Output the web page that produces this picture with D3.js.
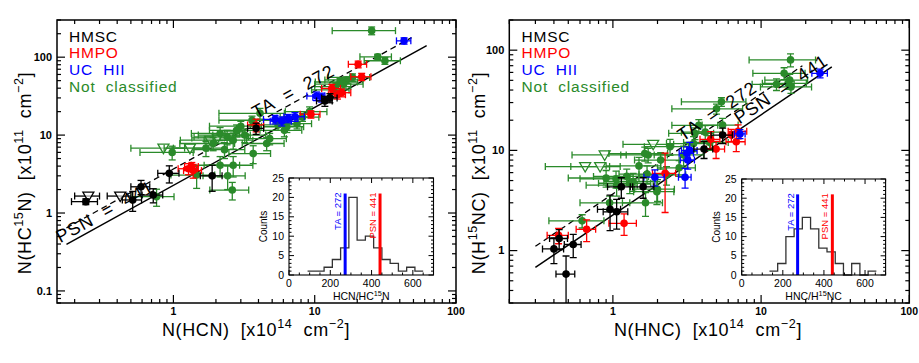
<!DOCTYPE html>
<html>
<head>
<meta charset="utf-8">
<script src="https://cdn.jsdelivr.net/npm/d3@7"></script>
<style>
  body { margin: 0; background: #fff; }
  text { font-family: "Liberation Sans", Arial, sans-serif; white-space: pre; }
</style>
</head>
<body>
<svg id="chart" width="919" height="363"></svg>
<script>
// ---- data: [x, y, xerr, yerr] (column densities) ----
const hcnHMSC = [[0.24,1.40,0.05,0.12],[0.515,1.47,0.08,0.42],[0.59,2.17,0.09,0.45],[0.72,1.70,0.12,0.35],
  [0.935,3.23,0.16,0.8],[1.88,3.0,0.33,1.1],[3.85,12.2,0.5,2.0],[11.8,27.4,1.5,4],[12.8,30,1.6,4]];
const hcnHMPO = [[1.28,3.7,0.2,0.6],[1.38,3.5,0.2,0.7],[1.35,3.95,0.15,0.5],[3.85,13.5,0.5,2.5],[9.4,18.5,1.5,2],
  [13.2,39.7,2,5],[14.5,33,2,4],[15.5,35,2.5,4],[20.3,81,3,8],[21.5,56,3.5,6]];
const hcnUCHII = [[42.9,162,5,15],[10.3,31.7,1.5,4],[11.2,30.5,1.5,4],[5.24,15.9,0.9,2],[5.84,15.1,1,2],
  [6.5,16.4,1.1,2],[7.25,17.2,1.2,2.2]];
const hcnNC = [[25.3,219,12,25],[27.9,101,7,8],[31.4,90,9,9],[16.8,51,5,5],[15.1,48,5,5],[18.5,55,6,6],
  [14,42,4,5],[16,45,6,5],[13.5,38,4,5],[6.35,12.8,2,2],[6.1,11.5,2,2],[4.57,7.8,1.5,1.5],[4.1,19,2,3],
  [3.67,5.8,1.2,1.5],[3.2,10,1.3,2],[2.65,8.6,1,2],[2.14,10.5,0.8,2],[1.91,7.8,0.8,1.5],[0.98,6.0,0.4,1.2],
  [2.14,4.1,0.8,1.2],[2.65,4.1,1,1.2],[2.42,3.0,0.8,1],[2.61,1.97,0.8,0.5],[1.46,3.07,0.5,1],[0.76,1.62,0.25,0.4],
  [3.0,13,1.2,2],[2.8,11.5,1,2],[5.5,13.5,2,2],[4.8,9,1.5,1.5],[3.6,15.5,1.5,2],[2.4,9.5,1,2],[7.5,14,2,2],
  [8.2,17,2.5,2],[1.7,6.8,0.7,1.5],[9.2,20,3,3],[2.3,6.5,0.9,1.5]];
// upper limits: [x, y, xerr]
const hcnHMSCLim = [[0.25,1.65,0.05],[0.42,1.65,0.08]];
const hcnNCLim = [[0.85,6.8,0.35],[1.31,6.8,0.45],[1.82,8.6,0.7],[2.05,9.2,0.7],[2.5,10,1]];

const hncHMSC = [[0.483,0.583,0.07,0.3],[0.40,1.04,0.065,0.3],[0.434,1.32,0.06,0.3],[0.54,1.15,0.07,0.3],
  [0.957,2.58,0.17,1.0],[1.06,2.44,0.2,0.8],[1.14,4.33,0.22,1.0],[1.6,4.33,0.29,1.0],[4.12,10.3,0.6,2.0],[5.5,14.2,0.9,2.5]];
const hncHMPO = [[0.43,1.42,0.07,0.25],[0.665,1.63,0.1,0.4],[1.19,1.87,0.25,0.45],[2.25,5.9,0.4,3.5],
  [4.57,12.9,0.7,2.5],[4.97,10.3,0.7,2],[6.8,12.2,1,2.5],[7.0,15.5,1,2.5],[6.3,14.2,1,2]];
const hncUCHII = [[25,58.8,3,6],[1.92,5.4,0.3,1],[3.07,5.4,0.3,1.2],[3.15,9.35,0.35,1.5],[3.3,10,0.4,2],
  [3.2,8.0,0.35,1.5],[7.2,14.6,0.6,1.5]];
const hncNC = [[15.8,80,7.5,12],[14.3,58.8,5.5,8],[12.7,45.6,4,6],[15.2,46.7,5,6],[15.6,50.3,5,7],[15.9,43,6,6],
  [5.4,30.5,2.5,3],[5.0,26,2.5,3],[1.66,3.0,0.5,0.8],[2.0,4.1,0.6,1],[1.3,4.7,0.5,1],[1.73,9.0,0.6,1.5],
  [3.58,14.8,1.2,2],[3.8,17.8,1.3,2.5],[2.43,10.9,0.8,2],[1.7,5.8,0.6,1.2],[1.06,4.5,0.4,1],[1.98,3.87,0.6,1],
  [2.3,5.7,0.8,1.2],[1.64,9.3,0.7,1.5],[2.1,8,0.7,1.5],[1.24,5.5,0.5,1],[1.37,4.9,0.5,1],[2.8,6.7,0.8,1.2],
  [3.5,11.7,1.2,2],[5.5,17.9,1.5,3],[4.2,15.2,1.3,2.5],[0.62,1.98,0.25,0.3],[0.95,3.0,0.35,0.5],
  [1.05,5.2,0.45,1],[0.9,5.3,0.4,1],[1.5,7.0,0.6,1.5],[4.5,12,1.5,2],[3.0,9.0,1.1,2]];
const hncNCLim = [[0.65,6.9,0.3],[0.82,6.9,0.3],[0.88,9.0,0.35],[1.87,11.5,0.7]];

// histograms of the isotopic ratio
const hcnEdges = [90,130,170,210,250,290,330,370,410,450,490,530,570,610,650];
const hcnCounts = [1,1,2,4,7,20,9,10,7,4,3,1,2,1];
const hncEdges = [135,175,215,255,295,335,375,415,455,495,535,575,615,655];
const hncCounts = [1,3,10,12,15,12,7,6,3,0,3,0,1];

const ratioTA = 272, ratioPSN = 441;
const mainTicks = [0.1, 1, 10, 100];
const legendNames = ["HMSC", "HMPO", "UC  HII", "Not  classified"];
const colors = {hmsc: "#000000", hmpo: "#ff0000", uchii: "#0000ff", nc: "#2a8a2a"};

const svg = d3.select("#chart");
svg.append("rect").attr("width", 919).attr("height", 363).attr("fill", "#fff");

function richText(g, parts, size) {
  // parts: [text, isSup]
  let up = false;
  parts.forEach(([s, sup]) => {
    const t = g.append("tspan").text(s);
    if (sup && !up) { t.attr("dy", -size * 0.42).attr("font-size", size * 0.7); up = true; }
    else if (sup) { t.attr("font-size", size * 0.7); }
    else if (up) { t.attr("dy", size * 0.42); up = false; }
  });
}

function drawPanel(p, idx) {
  const [bx0, bx1, by0, by1] = p.box;
  const x = d3.scaleLog().domain(p.xDom).range([bx0, bx1]);
  const y = d3.scaleLog().domain(p.yDom).range([by1, by0]);
  const g = svg.append("g");

  const clipId = "clip" + idx;
  g.append("clipPath").attr("id", clipId).append("rect")
    .attr("x", bx0).attr("y", by0).attr("width", bx1 - bx0).attr("height", by1 - by0);
  const plot = g.append("g").attr("clip-path", `url(#${clipId})`);

  // ratio lines
  const lineGen = d3.line().x(d => x(d[0])).y(d => y(d[1]));
  const solid = p.lineRange.solid.map(v => [v, v * 1000 / ratioPSN]);
  const dashed = p.lineRange.dashed.map(v => [v, v * 1000 / ratioTA]);
  plot.append("path").attr("d", lineGen(solid)).attr("stroke", "#000").attr("stroke-width", 1.5).attr("fill", "none");
  plot.append("path").attr("d", lineGen(dashed)).attr("stroke", "#000").attr("stroke-width", 1.3)
    .attr("stroke-dasharray", "6,4").attr("fill", "none");

  const ang = Math.atan2(y(10) - y(1), x(10) - x(1)) * 180 / Math.PI;
  function lineLabel(xv, ratio, txt) {
    const yv = xv * 1000 / ratio;
    g.append("text").attr("font-size", 18).attr("letter-spacing", 1)
      .attr("transform", `translate(${x(xv)},${y(yv)}) rotate(${ang})`)
      .attr("dy", -4).text(txt);
  }
  lineLabel(p.labelAt.psn, ratioPSN, "PSN  =  441");
  lineLabel(p.labelAt.ta, ratioTA, "TA  =  272");

  const xmin = p.xDom[0], ymin = p.yDom[0];
  function errorBars(data, color) {
    const sg = plot.append("g").attr("stroke", color).attr("fill", color).attr("stroke-width", 1.3);
    data.forEach(d => {
      const [xv, yv, dx, dy] = d;
      const cx = x(xv), cy = y(yv);
      const xl = xv - dx > xmin ? x(xv - dx) : x(xmin), xr = x(xv + dx);
      sg.append("line").attr("x1", xl).attr("x2", xr).attr("y1", cy).attr("y2", cy);
      if (xv - dx > xmin) sg.append("line").attr("x1", xl).attr("x2", xl).attr("y1", cy - 3.5).attr("y2", cy + 3.5);
      sg.append("line").attr("x1", xr).attr("x2", xr).attr("y1", cy - 3.5).attr("y2", cy + 3.5);
      if (dy != null) {
        const yb = yv - dy > ymin ? y(yv - dy) : y(ymin), yt = y(yv + dy);
        sg.append("line").attr("x1", cx).attr("x2", cx).attr("y1", yb).attr("y2", yt);
        if (yv - dy > ymin) sg.append("line").attr("x1", cx - 3.5).attr("x2", cx + 3.5).attr("y1", yb).attr("y2", yb);
        sg.append("line").attr("x1", cx - 3.5).attr("x2", cx + 3.5).attr("y1", yt).attr("y2", yt);
        sg.append("circle").attr("cx", cx).attr("cy", cy).attr("r", 3.8).attr("stroke", "none");
      } else {
        sg.append("path").attr("d", `M${cx - 5.5},${cy - 4}L${cx + 5.5},${cy - 4}L${cx},${cy + 5.5}Z`)
          .attr("fill", "#fff").attr("fill-opacity", 0.6);
      }
    });
  }
  errorBars(p.ncLim.map(d => [d[0], d[1], d[2], null]), colors.nc);
  errorBars(p.nc, colors.nc);
  errorBars(p.hmpo, colors.hmpo);
  errorBars(p.uchii, colors.uchii);
  errorBars(p.hmscLim.map(d => [d[0], d[1], d[2], null]), colors.hmsc);
  errorBars(p.hmsc, colors.hmsc);

  // frame and log ticks
  g.append("rect").attr("x", bx0).attr("y", by0).attr("width", bx1 - bx0).attr("height", by1 - by0)
    .attr("fill", "none").attr("stroke", "#000").attr("stroke-width", 1.5);
  const minor = [];
  [-2, -1, 0, 1, 2].forEach(n => { for (let k = 2; k <= 9; k++) minor.push(k * Math.pow(10, n)); });
  const inX = v => v >= p.xDom[0] && v <= p.xDom[1];
  const inY = v => v >= p.yDom[0] && v <= p.yDom[1];
  const tk = g.append("g").attr("stroke", "#000").attr("stroke-width", 1.2);
  mainTicks.filter(inX).forEach(v => {
    tk.append("line").attr("x1", x(v)).attr("x2", x(v)).attr("y1", by1).attr("y2", by1 - 8);
    tk.append("line").attr("x1", x(v)).attr("x2", x(v)).attr("y1", by0).attr("y2", by0 + 8);
    g.append("text").attr("x", x(v)).attr("y", 315).attr("text-anchor", "middle")
      .attr("font-size", 10.5).attr("font-weight", "bold").text(v);
  });
  minor.filter(inX).forEach(v => {
    tk.append("line").attr("x1", x(v)).attr("x2", x(v)).attr("y1", by1).attr("y2", by1 - 4);
    tk.append("line").attr("x1", x(v)).attr("x2", x(v)).attr("y1", by0).attr("y2", by0 + 4);
  });
  mainTicks.filter(inY).forEach(v => {
    tk.append("line").attr("y1", y(v)).attr("y2", y(v)).attr("x1", bx0).attr("x2", bx0 + 8);
    tk.append("line").attr("y1", y(v)).attr("y2", y(v)).attr("x1", bx1).attr("x2", bx1 - 8);
    g.append("text").attr("x", bx0 - 5).attr("y", y(v)).attr("dy", "0.35em").attr("text-anchor", "end")
      .attr("font-size", 11).attr("font-weight", "bold").text(v);
  });
  minor.filter(inY).forEach(v => {
    tk.append("line").attr("y1", y(v)).attr("y2", y(v)).attr("x1", bx0).attr("x2", bx0 + 4);
    tk.append("line").attr("y1", y(v)).attr("y2", y(v)).attr("x1", bx1).attr("x2", bx1 - 4);
  });

  // axis titles
  const xt = g.append("text").attr("x", p.xTitleX).attr("y", 336).attr("text-anchor", "middle")
    .attr("font-size", 18).attr("letter-spacing", 0.6);
  richText(xt, p.xTitle, 18);
  const yt = g.append("text").attr("text-anchor", "middle").attr("font-size", 18).attr("letter-spacing", 0.6)
    .attr("transform", `translate(${p.yTitleX},173) rotate(-90)`);
  richText(yt, p.yTitle, 18);

  // legend
  const legColors = [colors.hmsc, colors.hmpo, colors.uchii, colors.nc];
  legendNames.forEach((name, i) => {
    g.append("text").attr("x", p.legendX).attr("y", 41.5 + i * 16.7).attr("font-size", 15.5)
      .attr("letter-spacing", 0.8).attr("fill", legColors[i]).text(name);
  });

  // inset histogram
  const ib = p.inset.box;
  const ix = d3.scaleLinear().domain([0, 700]).range([ib[0], ib[1]]);
  const iy = d3.scaleLinear().domain([0, 25]).range([ib[3], ib[2]]);
  const ig = g.append("g");
  ig.append("rect").attr("x", ib[0]).attr("y", ib[2]).attr("width", ib[1] - ib[0]).attr("height", ib[3] - ib[2])
    .attr("fill", "#fff");
  const steps = p.inset.counts.map((c, i) => [p.inset.edges[i], c]);
  steps.push([p.inset.edges[p.inset.edges.length - 1], p.inset.counts[p.inset.counts.length - 1]]);
  ig.append("path").attr("d", d3.line().curve(d3.curveStepAfter).x(d => ix(d[0])).y(d => iy(d[1]))(steps))
    .attr("fill", "none").attr("stroke", "#333").attr("stroke-width", 1.3);
  ig.append("line").attr("x1", ix(ratioTA)).attr("x2", ix(ratioTA)).attr("y1", iy(0)).attr("y2", iy(21))
    .attr("stroke", "#0000ff").attr("stroke-width", 3);
  ig.append("line").attr("x1", ix(ratioPSN)).attr("x2", ix(ratioPSN)).attr("y1", iy(0)).attr("y2", iy(21))
    .attr("stroke", "#ff0000").attr("stroke-width", 3);
  ig.append("text").attr("font-size", 9.5).attr("fill", "#0000ff").attr("text-anchor", "end")
    .attr("transform", `translate(${ix(ratioTA) - 4},${iy(21.3)}) rotate(-90)`).text("TA = 272");
  ig.append("text").attr("font-size", 9.5).attr("fill", "#ff0000").attr("text-anchor", "end")
    .attr("transform", `translate(${ix(ratioPSN) - 4},${iy(21.3)}) rotate(-90)`).text("PSN = 441");
  ig.append("rect").attr("x", ib[0]).attr("y", ib[2]).attr("width", ib[1] - ib[0]).attr("height", ib[3] - ib[2])
    .attr("fill", "none").attr("stroke", "#000").attr("stroke-width", 1.1);
  const itk = ig.append("g").attr("stroke", "#000").attr("stroke-width", 1);
  d3.range(0, 701, 50).forEach(v => {
    const len = v % 200 === 0 ? 5 : 2.5;
    itk.append("line").attr("x1", ix(v)).attr("x2", ix(v)).attr("y1", ib[3]).attr("y2", ib[3] - len);
    itk.append("line").attr("x1", ix(v)).attr("x2", ix(v)).attr("y1", ib[2]).attr("y2", ib[2] + len);
  });
  d3.range(0, 26, 1).forEach(v => {
    const len = v % 5 === 0 ? 5 : 2.5;
    itk.append("line").attr("y1", iy(v)).attr("y2", iy(v)).attr("x1", ib[0]).attr("x2", ib[0] + len);
    itk.append("line").attr("y1", iy(v)).attr("y2", iy(v)).attr("x1", ib[1]).attr("x2", ib[1] - len);
  });
  [0, 200, 400, 600].forEach(v => {
    ig.append("text").attr("x", ix(v)).attr("y", ib[3] + 12).attr("text-anchor", "middle")
      .attr("font-size", 10.5).text(v);
  });
  [0, 5, 10, 15, 20, 25].forEach(v => {
    ig.append("text").attr("x", ib[0] - 5).attr("y", iy(v)).attr("dy", "0.35em").attr("text-anchor", "end")
      .attr("font-size", 10.5).text(v);
  });
  const it = ig.append("text").attr("x", (ib[0] + ib[1]) / 2).attr("y", ib[3] + 25).attr("text-anchor", "middle")
    .attr("font-size", 10.5);
  richText(it, p.inset.title, 10.5);
  ig.append("text").attr("font-size", 10).attr("text-anchor", "middle")
    .attr("transform", `translate(${ib[0] - 22},${(ib[2] + ib[3]) / 2}) rotate(-90)`).text("Counts");
}

const panels = [
  {
    box: [57, 456, 20, 303], xDom: [0.15, 100], yDom: [0.07, 300],
    hmsc: hcnHMSC, hmpo: hcnHMPO, uchii: hcnUCHII, nc: hcnNC, hmscLim: hcnHMSCLim, ncLim: hcnNCLim,
    lineRange: {solid: [0.175, 62], dashed: [0.175, 48.5]},
    labelAt: {psn: 0.163, ta: 3.98},
    xTitleX: 256, yTitleX: 31, legendX: 69,
    xTitle: [["N(HCN)  [x10"], ["14", true], ["  cm"], ["\u22122", true], ["]"]],
    yTitle: [["N(HC"], ["15", true], ["N)  [x10"], ["11", true], ["  cm"], ["\u22122", true], ["]"]],
    inset: {box: [289, 433.5, 178, 275], edges: hcnEdges, counts: hcnCounts, title: [["HCN/HC"], ["15", true], ["N"]]}
  },
  {
    box: [509.3, 909.3, 20, 303], xDom: [0.2, 100], yDom: [0.3, 200],
    hmsc: hncHMSC, hmpo: hncHMPO, uchii: hncUCHII, nc: hncNC, hmscLim: [], ncLim: hncNCLim,
    lineRange: {solid: [0.3, 30], dashed: [0.3, 19]},
    labelAt: {psn: 7.4, ta: 3.07},
    xTitleX: 708, yTitleX: 485, legendX: 521.5,
    xTitle: [["N(HNC)  [x10"], ["14", true], ["  cm"], ["\u22122", true], ["]"]],
    yTitle: [["N(H"], ["15", true], ["NC)  [x10"], ["11", true], ["  cm"], ["\u22122", true], ["]"]],
    inset: {box: [741.7, 885.6, 179, 275], edges: hncEdges, counts: hncCounts, title: [["HNC/H"], ["15", true], ["NC"]]}
  }
];
panels.forEach(drawPanel);
</script>
</body>
</html>
